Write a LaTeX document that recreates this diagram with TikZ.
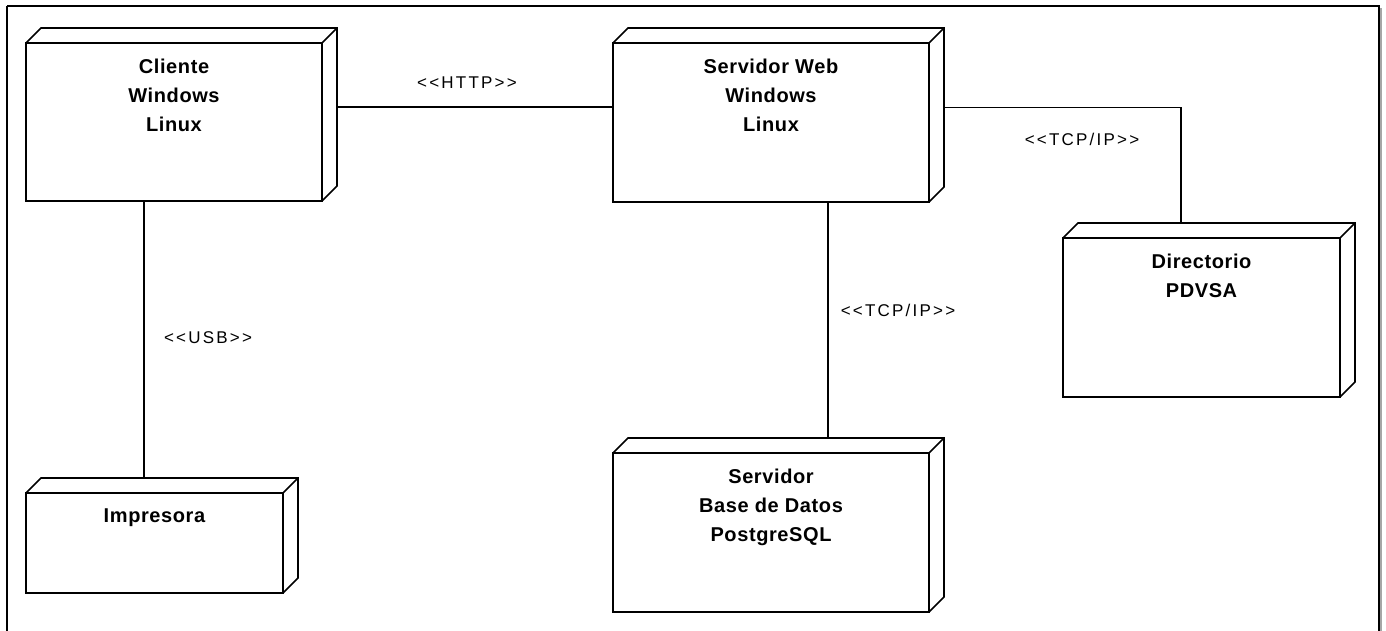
\documentclass[tikz,border=0pt]{standalone}
\usepackage{fontspec}
\setmainfont{Liberation Sans}
\usetikzlibrary{calc}
\newfontfamily\lblfont[LetterSpace=13]{Liberation Sans}
\newfontfamily\boxfont[LetterSpace=3]{Liberation Sans Bold}
\tikzset{
  front/.style={draw, line width=1.6pt, rectangle, inner sep=0pt, outer sep=0pt, anchor=north west, fill=white},
  backface/.style={rectangle, inner sep=0pt, outer sep=0pt, anchor=north west},
  edge3d/.style={line width=1.6pt, line join=miter},
  conn/.style={line width=1.6pt},
  boxtext/.style={anchor=north, inner sep=0pt, align=center, font=\boxfont\fontsize{20}{29}\selectfont},
  lbl/.style={anchor=base, inner sep=0pt, font=\lblfont\fontsize{17}{20}\selectfont}
}
% \depnode{name}{x1}{y1}{w}{h}{text}
\newcommand{\depnode}[6]{%
  \node[front, minimum width=#4pt, minimum height=#5pt] (#1) at (#2,#3) {};
  \node[backface, minimum width=#4pt, minimum height=#5pt] (#1-b) at (#2+15,#3-15) {};
  \draw[edge3d] (#1.north west) -- (#1-b.north west) -- (#1-b.north east) -- (#1-b.south east) -- (#1.south east);
  \draw[edge3d] (#1.north east) -- (#1-b.north east);
  \node[boxtext] (#1-t) at ($(#1.north)+(0,15.4)$) {#6};
}
\begin{document}
\begin{tikzpicture}[x=1pt,y=-1pt]
\useasboundingbox (0,0) rectangle (1386,630);
% frame
\draw[gray!70, line width=2pt] (1381,8) -- (1381,640);
\draw[line width=1.5pt] (7,6) -- (1379,6) -- (1379,640);
\draw[line width=1.5pt] (7,6) -- (7,640);

\depnode{cliente}{26}{43}{296}{158}{Cliente\\Windows\\Linux}
\depnode{web}{613}{43}{316}{159}{Servidor Web\\Windows\\Linux}
\depnode{impr}{26}{493}{257}{100}{Impresora}
\depnode{dir}{1063}{238}{277}{159}{Directorio\\PDVSA}
\depnode{bd}{613}{453}{316}{159}{Servidor\\Base de Datos\\PostgreSQL}

% connectors
\draw[conn] (cliente-b.east) -- (cliente-b.east -| web.west);
\draw[conn] ([xshift=118pt]cliente.south west) -- ([xshift=103pt]impr-b.north west);
\draw[conn] ([xshift=215pt]web.south west) -- ([xshift=200pt]bd-b.north west);
\draw[conn] (web-b.east) -| ([xshift=103pt]dir-b.north west);

% labels
\node[lbl] (lhttp) at (467,88) {<{}<HTTP>{}>};
\node[lbl] (lusb) at (208,343) {<{}<USB>{}>};
\node[lbl] (ltcp1) at (898,316) {<{}<TCP/IP>{}>};
\node[lbl] (ltcp2) at (1082,145) {<{}<TCP/IP>{}>};
\end{tikzpicture}
\end{document}
